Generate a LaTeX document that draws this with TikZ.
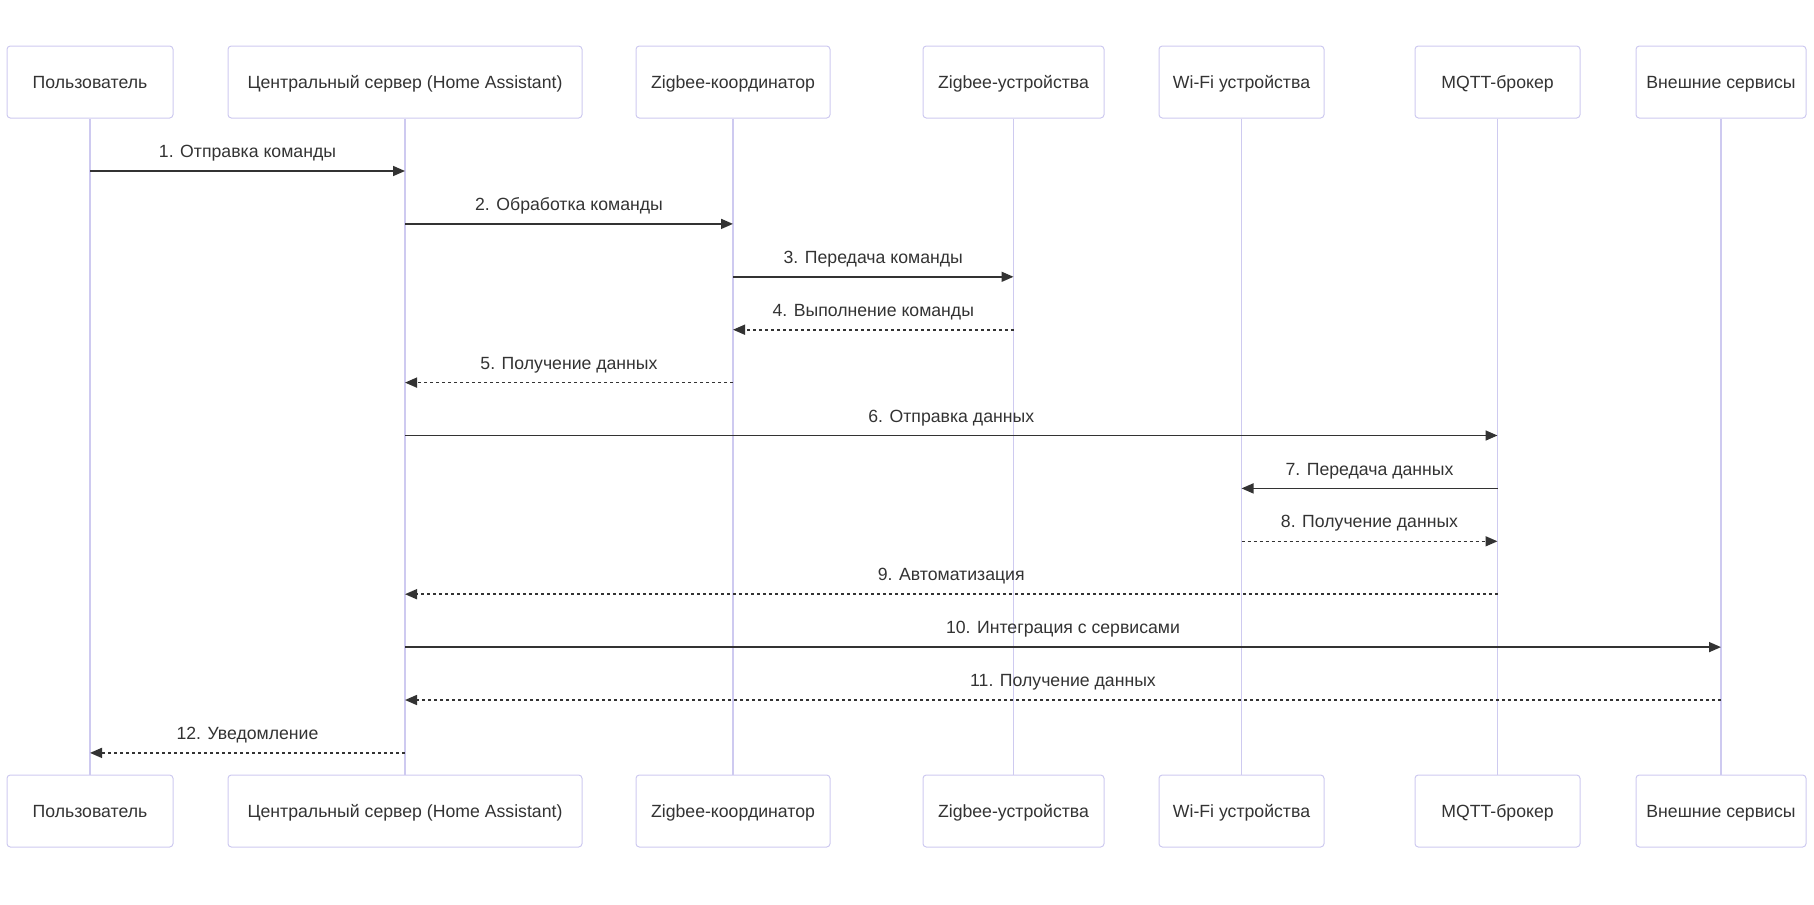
\documentclass[tikz,border=0pt]{standalone}
\usepackage{fontspec}
\setmainfont{Liberation Sans}
\usetikzlibrary{arrows.meta}
\definecolor{lav}{RGB}{206,202,240}
\definecolor{ink}{RGB}{51,51,51}

\begin{document}
\begin{tikzpicture}[x=0.75pt,y=-0.75pt,
  actor/.style={draw=lav,line width=0.75pt,rounded corners=2.5pt,fill=white,minimum height=54pt,inner sep=0pt,
    text=ink,text height=9.6pt,text depth=0pt,font=\fontsize{13.25}{16}\selectfont},
  life/.style={draw=lav,line width=1.1pt},
  msg/.style={draw=ink,line width=1.2pt,-{Triangle[length=9pt,width=7.5pt]}},
  ret/.style={msg,dash pattern=on 2.25pt off 2.25pt},
  lbl/.style={anchor=base,yshift=10pt,text=ink,font=\fontsize{13.25}{16}\selectfont}]
\useasboundingbox (0,0) rectangle (1814,904);
\foreach \n/\x/\w/\t in {user/90/166/Пользователь,
  srv/405/354/Центральный сервер (Home Assistant),
  zc/733/194/Zigbee-координатор,
  zd/1013.5/181/Zigbee-устройства,
  wifi/1241.5/165/Wi-Fi устройства,
  mqtt/1497.5/165/MQTT-брокер,
  ext/1721/170/Внешние сервисы}
{
\node[actor,minimum width=\w*0.75pt] (\n) at (\x,82) {\t};
\node[actor,minimum width=\w*0.75pt] (\n2) at (\x,811) {\t};
\draw[life] (\n) -- (\n2);
}
\foreach \i in {1,...,12}
  \coordinate (r\i) at (0,{171+52.9*(\i-1)});
\foreach \i/\a/\b/\s/\t in {1/user/srv/msg/1. Отправка команды,
  2/srv/zc/msg/2. Обработка команды,
  3/zc/zd/msg/3. Передача команды,
  4/zd/zc/ret/4. Выполнение команды,
  5/zc/srv/ret/5. Получение данных,
  6/srv/mqtt/msg/6. Отправка данных,
  7/mqtt/wifi/msg/7. Передача данных,
  8/wifi/mqtt/ret/8. Получение данных,
  9/mqtt/srv/ret/9. Автоматизация,
  10/srv/ext/msg/10. Интеграция с сервисами,
  11/ext/srv/ret/11. Получение данных,
  12/srv/user/ret/12. Уведомление}
  \draw[\s] (\a |- r\i) -- (\b |- r\i) node[midway,lbl] {\t};
\end{tikzpicture}
\end{document}
